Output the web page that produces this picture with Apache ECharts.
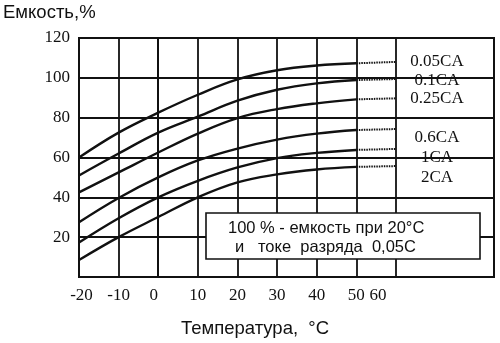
<!DOCTYPE html>
<html>
<head>
<meta charset="utf-8">
<script src="https://cdn.jsdelivr.net/npm/echarts@6/dist/echarts.min.js"></script>
<style>html,body{margin:0;padding:0;background:#fff}#c{width:500px;height:343px}</style>
</head>
<body>
<div id="c"></div>
<script>
// Temperature points (°C)
var temps = [-20, -10, 0, 10, 20, 30, 40, 50, 60];
// Capacity (%) per discharge current; last segment (50..60) is dotted
var cap005 = [60, 72.5, 82.5, 91.5, 99.2, 103.8, 106.2, 107.3, 108];
var cap01  = [51, 62, 72.5, 80.5, 88.5, 94, 97.2, 98.9, 99.4];
var cap025 = [42.5, 52.5, 62.5, 72, 79.8, 84.3, 87.2, 89.2, 89.7];
var cap06  = [27.5, 39.7, 50, 58.5, 64.5, 69, 72, 73.8, 74.3];
var cap1   = [17.3, 29.5, 40, 48.3, 55, 59.7, 62.3, 63.8, 64.3];
var cap2   = [8.5, 20, 30.1, 40, 47.5, 51.5, 54, 55.3, 55.7];
var curveNames = ['0.05CA', '0.1CA', '0.25CA', '0.6CA', '1CA', '2CA'];
var curves = [cap005, cap01, cap025, cap06, cap1, cap2];
var xTickLabels = ['-20', '-10', '0', '10', '20', '30', '40', '50', '60'];
var yTickLabels = ['20', '40', '60', '80', '100', '120'];
var gridXValues = [-10, 0, 10, 20, 30, 40, 50, 60];
var yAxisTitle = 'Емкость,%';
var xAxisTitle = 'Температура,  °C';
var noteLine1 = '100 % - емкость при 20°C';
var noteLine2 = 'и   токе  разряда  0,05С';

var chart = echarts.init(document.getElementById('c'), null, {renderer: 'canvas'});
var series = [];
var solidEnd = temps.indexOf(50);
curves.forEach(function (vals, i) {
  var solid = [], dotted = [];
  temps.forEach(function (t, j) {
    if (j <= solidEnd) solid.push([t, vals[j]]);
    if (j >= solidEnd) dotted.push([t, vals[j]]);
  });
  series.push({
    name: curveNames[i], type: 'line', data: solid, smooth: 0.4,
    symbol: 'none', lineStyle: {color: '#111', width: 2.4}, z: 5, silent: true
  });
  series.push({
    name: curveNames[i] + ' ext', type: 'line', data: dotted,
    symbol: 'none', lineStyle: {color: '#111', width: 2, type: [1.5, 1]}, z: 5, silent: true
  });
});
// vertical grid lines
series.push({
  type: 'line', data: [], silent: true,
  markLine: {
    symbol: 'none', silent: true, animation: false,
    label: {show: false},
    lineStyle: {color: '#111', width: 1.8, type: 'solid'},
    data: gridXValues.map(function (v) { return {xAxis: v}; })
  }
});

var tickFont = {fontFamily: 'Liberation Serif', fontSize: 17, color: '#111'};
chart.setOption({
  animation: false,
  backgroundColor: '#fff',
  grid: {left: 79, right: 6, top: 38, bottom: 66, show: true, borderColor: '#111', borderWidth: 2},
  xAxis: {
    type: 'value', min: -20, max: 84.75, interval: 10,
    axisLine: {show: true, lineStyle: {color: '#111', width: 2}},
    axisTick: {show: false},
    splitLine: {show: false},
    axisLabel: {
      margin: 10, color: '#111', fontFamily: 'Liberation Serif', fontSize: 17,
      formatter: function (v) {
        var s = String(v);
        if (xTickLabels.indexOf(s) < 0) return '';
        if (v === 60) return '{l60|' + s + '}';
        if (v === 0) return '{l0|' + s + '}';
        if (v === -20) return '{r|' + s + '}';
        return s;
      },
      rich: {
        l60: Object.assign({padding: [0, 36, 0, 0]}, tickFont),
        l0: Object.assign({padding: [0, 9, 0, 0]}, tickFont),
        r: Object.assign({padding: [0, 0, 0, 5]}, tickFont)
      }
    }
  },
  yAxis: {
    type: 'value', min: 0, max: 120, interval: 20,
    axisLine: {show: true, lineStyle: {color: '#111', width: 2}},
    axisTick: {show: false},
    splitLine: {show: true, lineStyle: {color: '#111', width: 1.8}},
    axisLabel: {
      margin: 9, color: '#111', fontFamily: 'Liberation Serif', fontSize: 17,
      formatter: function (v) { var s = String(v); return yTickLabels.indexOf(s) >= 0 ? s : ''; }
    }
  },
  series: series,
  graphic: [
    {type: 'text', left: 3, top: 3, style: {text: yAxisTitle, font: '18.5px "Liberation Sans"', fill: '#111'}},
    {type: 'text', x: 255, y: 329, style: {text: xAxisTitle, font: '18.5px "Liberation Sans"', fill: '#111', textAlign: 'center', textVerticalAlign: 'middle'}},
    {type: 'rect', z: 50, shape: {x: 206, y: 213, width: 274, height: 46},
      style: {fill: '#fff', stroke: '#111', lineWidth: 1.6}},
    {type: 'text', z: 51, x: 228, y: 228, style: {text: noteLine1, font: '16.5px "Liberation Sans"', fill: '#111', textVerticalAlign: 'middle'}},
    {type: 'text', z: 51, x: 235, y: 247, style: {text: noteLine2, font: '16.5px "Liberation Sans"', fill: '#111', textVerticalAlign: 'middle'}}
  ].concat(curveNames.map(function (n, i) {
    var ys = [62, 81, 99, 138, 158, 178];
    return {type: 'text', z: 52, x: 437, y: ys[i],
      style: {text: n, font: '17px "Liberation Serif"', fill: '#111', textAlign: 'center', textVerticalAlign: 'middle'}};
  }))
});
</script>
</body>
</html>
